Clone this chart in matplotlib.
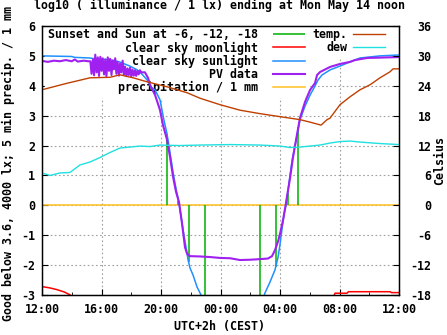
import matplotlib
matplotlib.use("Agg")
import matplotlib.pyplot as plt
import numpy as np

plt.rcParams['font.family'] = 'DejaVu Sans Mono'
plt.rcParams['font.weight'] = 'bold'
plt.rcParams['font.size'] = 8.4
plt.rcParams['axes.unicode_minus'] = False

nan = float('nan')

# x axis: hours after 12:00 (Sunday noon -> Monday noon)
hour_ticks = [0, 4, 8, 12, 16, 20, 24]
hour_labels = ["12:00", "16:00", "20:00", "00:00", "04:00", "08:00", "12:00"]
lux_ticks = [-3, -2, -1, 0, 1, 2, 3, 4, 5, 6]
celsius_ticks = [-18, -12, -6, 0, 6, 12, 18, 24, 30, 36]

# clear sky sunlight, log10(lx)
sun_hours = [0, 2.0, 2.2, 3.2, 3.6, 4.6, 5.2, 5.9, 6.4, 6.7, 7.06, 7.33, 7.6, 7.93, 8.13,
             8.2, 8.4, 8.61, 8.81, 9.01, 9.21, 9.48, 9.68, 9.82, 9.95, 10.15, 10.42, 10.69,
             10.82, 12.0,
             14.79, 14.99, 15.33, 15.66, 15.87, 16.0, 16.13, 16.27, 16.4, 16.54, 16.67,
             16.81, 17.01, 17.21, 17.34, 17.68, 18.02, 18.35, 18.55, 18.82, 19.36, 20.03,
             20.71, 21.38, 22.72, 24.0]
sun_vals = [5.0, 4.98, 4.95, 4.93, 4.9, 4.87, 4.8, 4.66, 4.53, 4.4, 4.2, 3.96, 3.86, 3.53, 3.02,
            2.84, 2.4, 1.75, 1.1, 0.55, 0.08, -0.82, -1.4, -1.83, -2.1, -2.33, -2.73, -3.0,
            -3.2, nan,
            -3.2, -2.93, -2.56, -2.16, -1.73, -1.3, -0.8, -0.3, 0.0, 0.5, 1.0,
            1.5, 2.0, 2.5, 2.86, 3.32, 3.69, 3.99, 4.19, 4.36, 4.53, 4.66,
            4.8, 4.93, 5.0, 5.03]

# clear sky moonlight
moon_hours = [0, 0.5, 1.0, 1.5, 1.9, 2.0, 12.0, 19.6, 19.7, 20.5, 20.6, 23.4, 23.5, 24.0]
moon_vals = [-2.72, -2.76, -2.82, -2.9, -3.0, -3.05, nan, -3.05, -2.94, -2.94, -2.89, -2.89,
             -2.92, -2.92]

# PV data
pv_hours = [0, 0.4, 0.8, 1.2, 1.6, 2.0, 2.2, 2.4, 2.8, 3.1,
            3.25, 3.33, 3.42, 3.5, 3.58, 3.67, 3.75, 3.83, 3.92, 4.0, 4.08, 4.17, 4.25,
            4.33, 4.42, 4.5, 4.58, 4.67, 4.75, 4.83, 4.92, 5.0, 5.08, 5.17, 5.25, 5.33,
            5.42, 5.5, 5.58, 5.67, 5.75, 5.83, 5.92, 6.0, 6.08, 6.17, 6.25, 6.33, 6.42,
            6.5, 6.58, 6.67, 6.75,
            6.92, 7.13, 7.26, 7.6, 7.93, 8.13, 8.4, 8.61, 8.81, 9.01, 9.21, 9.41, 9.61,
            9.75, 9.95, 10.62, 11.29, 11.97, 12.64, 13.31, 13.98, 14.66, 15.19, 15.46,
            15.66, 15.87, 16.0, 16.2, 16.34, 16.47, 16.67, 16.87, 17.08, 17.34, 17.68,
            18.02, 18.35, 18.49, 18.69, 19.36, 20.03, 20.71, 21.04, 21.85, 24.0]
pv_vals = [4.83, 4.8, 4.84, 4.82, 4.86, 4.82, 4.88, 4.81, 4.84, 4.82,
           4.82, 4.4, 4.88, 4.35, 5.04, 4.45, 4.95, 4.33, 4.97, 4.5, 4.92, 4.38, 4.88,
           4.32, 4.95, 4.5, 4.9, 4.36, 4.84, 4.55, 4.92, 4.4, 4.8, 4.34, 4.74, 4.45,
           4.84, 4.38, 4.64, 4.32, 4.58, 4.36, 4.6, 4.3, 4.54, 4.34, 4.52, 4.33, 4.5,
           4.38, 4.52, 4.44, 4.45,
           4.45, 4.26, 4.03, 3.69, 3.19, 2.69, 2.2, 1.6, 0.95, 0.45, 0.1, -0.6, -1.4,
           -1.62, -1.7, -1.71, -1.73, -1.76, -1.77, -1.83, -1.82, -1.8, -1.78, -1.7,
           -1.5, -1.2, -0.95, -0.5, -0.1, 0.3, 0.9, 1.6, 2.2, 2.92, 3.46,
           3.86, 4.09, 4.36, 4.46, 4.63, 4.73, 4.8, 4.86, 4.93, 4.96]

# 5 min precipitation / 1 mm
rain_hours = [0, 24]
rain_vals = [0.0, 0.0]

# sunset and sun at -6, -12, -18 (evening, then morning)
twilight_hours = [8.40, 9.14, 9.88, 10.96, 14.66, 15.73, 16.54, 17.21]
twilight_tops = [2.4, 0.15, -1.9, -3.0, -3.0, -2.06, 0.4, 2.62]

# temperature and dew point, Celsius
temp_hours = [0, 1.68, 3.23, 4.57, 5.24, 6.12, 7.06, 8.4, 9.75, 10.62, 11.97, 13.31, 14.66,
              16.0, 17.34, 18.02, 18.76, 19.16, 19.36, 20.03, 20.71, 21.38, 22.05, 22.72,
              23.39, 23.6, 24.0]
temp_vals = [23.2, 24.5, 25.6, 25.7, 26.2, 25.6, 24.8, 23.8, 22.6, 21.5, 20.2, 19.1, 18.4,
             17.8, 17.2, 16.7, 16.1, 17.2, 17.5, 20.2, 21.8, 23.2, 24.2, 25.6,
             26.8, 27.4, 27.4]
dew_hours = [0, 0.54, 1.21, 1.88, 2.55, 3.23, 3.9, 4.57, 5.24, 5.92, 6.59, 7.26, 7.93, 9.28,
             10.62, 12.64, 14.66, 16.0, 16.67, 17.34, 18.69, 19.36, 20.03, 20.71, 21.38,
             22.72, 24.0]
dew_vals = [6.5, 6.0, 6.5, 6.6, 8.1, 8.7, 9.6, 10.6, 11.5, 11.7, 11.9, 11.8, 12.1, 12.0,
            12.1, 12.2, 12.1, 11.9, 11.6, 11.7, 12.1, 12.5, 12.8, 12.9, 12.7,
            12.4, 12.2]

fig = plt.figure(figsize=(4.47, 3.35), dpi=100)
ax = fig.add_axes([0.094, 0.1194, 0.7987, 0.803])
ax2 = ax.twinx()

ax.set_axisbelow(True)
ax.grid(True, color='#a0a0a0', linestyle=(0, (1.5, 2.2)), linewidth=0.8)

rain_line, = ax.plot(rain_hours, rain_vals, color='#ffc020', linewidth=1.1)
green = ax.vlines(twilight_hours, 0, twilight_tops, color='#00b000', linewidth=1.1)
moon_line, = ax.plot(moon_hours, moon_vals, color='#ff0000', linewidth=1.1)
sun_line, = ax.plot(sun_hours, sun_vals, color='#1e90ff', linewidth=1.1)
pv_line, = ax.plot(pv_hours, pv_vals, color='#a020f0', linewidth=1.5)

temp_line, = ax2.plot(temp_hours, temp_vals, color='#c04000', linewidth=1.0)
dew_line, = ax2.plot(dew_hours, dew_vals, color='#20e0e0', linewidth=1.0)

ax.set_xlim(0, 24)
ax.set_ylim(-3, 6)
ax2.set_ylim(-18, 36)
ax.set_xticks(hour_ticks)
ax.set_xticklabels(hour_labels)
ax.set_xticks(range(2, 24, 4), minor=True)
ax.set_yticks(lux_ticks)
ax2.set_yticks(celsius_ticks)

ax.tick_params(axis='both', which='both', direction='in', top=False, right=False)
ax.tick_params(axis='x', which='major', length=4, pad=5.5)
ax.tick_params(axis='x', which='minor', length=2.5)
ax.tick_params(axis='y', length=4, pad=5)
ax2.tick_params(axis='y', direction='in', length=4, pad=23.5)
plt.setp(ax2.get_yticklabels(), ha='right')
for a in (ax, ax2):
    for s in a.spines.values():
        s.set_linewidth(0.9)

leg1 = ax.legend([green, moon_line, sun_line, pv_line, rain_line],
                 ["Sunset and Sun at -6, -12, -18", "clear sky moonlight",
                  "clear sky sunlight", "PV data", "precipitation / 1 mm"],
                 loc='upper right', bbox_to_anchor=(0.7465, 1.004), markerfirst=False,
                 fancybox=False, framealpha=1, facecolor='white', edgecolor='white',
                 borderpad=0.3, borderaxespad=0, handlelength=2.74, handletextpad=1.29,
                 labelspacing=0.0)
leg1.set_zorder(1.5)
ax.add_artist(leg1)
leg2 = ax.legend([temp_line, dew_line], ["temp.", "dew"],
                 loc='upper right', bbox_to_anchor=(0.9706, 1.004), markerfirst=False,
                 fancybox=False, framealpha=1, facecolor='white', edgecolor='white',
                 borderpad=0.3, borderaxespad=0, handlelength=2.74, handletextpad=0.5,
                 labelspacing=0.0)
leg2.set_zorder(1.5)

fig.text(0.492, 0.984, "log10 ( illuminance / 1 lx) ending at Mon May 14 noon",
         ha='center', va='center')
fig.text(0.018, 0.513, "Good below 3.6, 4000 lx; 5 min precip. / 1 mm",
         rotation=90, ha='center', va='center')
fig.text(0.984, 0.52, "Celsius", rotation=90, ha='center', va='center')
fig.text(0.492, 0.024, "UTC+2h (CEST)", ha='center', va='center')

fig.savefig('out.png', dpi=100)
